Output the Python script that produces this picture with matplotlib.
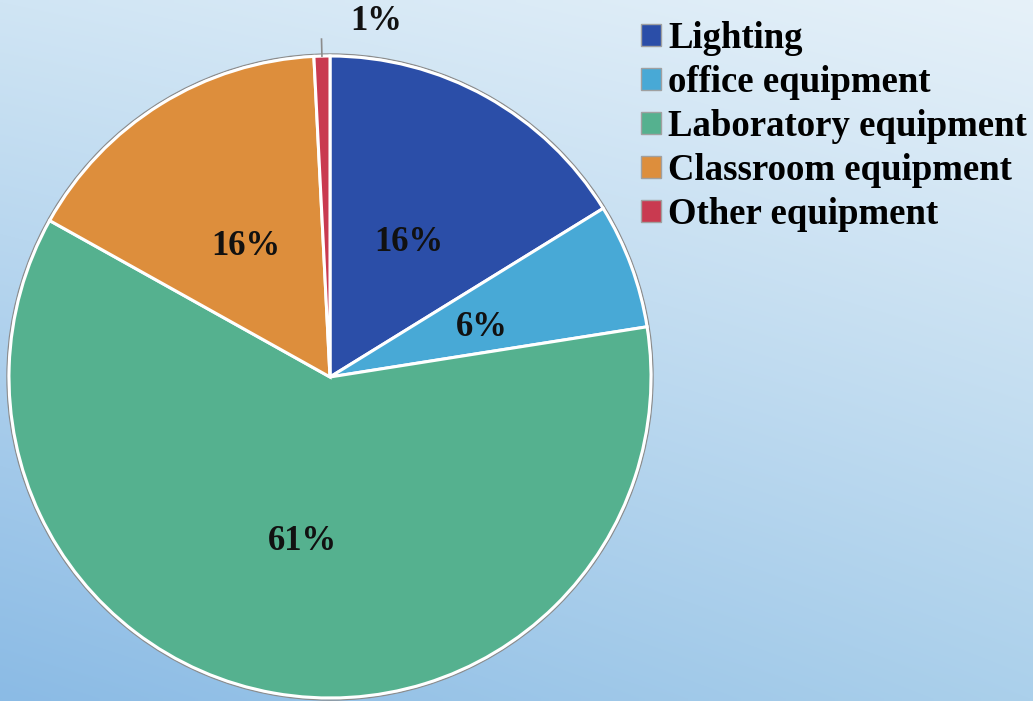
import numpy as np
import matplotlib.pyplot as plt
from matplotlib.patches import Patch, Circle
from matplotlib.colors import to_rgb

labels = ['Lighting', 'office equipment', 'Laboratory equipment', 'Classroom equipment', 'Other equipment']
values = [16.2, 6.3, 60.6, 16.1, 0.8]
colors = ['#2b4ea8', '#48a9d6', '#55b18f', '#dd8e3c', '#c93a50']

plt.rcParams['font.family'] = ['Liberation Serif', 'DejaVu Serif']
plt.rcParams['font.weight'] = 'bold'

W, H = 1033, 701
fig = plt.figure(figsize=(W / 100, H / 100), dpi=100)
ax = fig.add_axes([0, 0, 1, 1])

# background gradient (light top-right, darker blue bottom-left)
tl, tr = np.array(to_rgb('#d0e5f4')), np.array(to_rgb('#e6f1f9'))
bl, br = np.array(to_rgb('#8bbbe5')), np.array(to_rgb('#abd0eb'))
u = np.linspace(0, 1, 200)[None, :, None]
v = np.linspace(0, 1, 140)[:, None, None]
grad = (1 - v) * ((1 - u) * tl + u * tr) + v * ((1 - u) * bl + u * br)
ax.imshow(grad, extent=(0, W, 0, H), aspect='auto', zorder=0, interpolation='bilinear')

cx, cy, R = 330, H - 377, 321
ax.add_patch(Circle((cx, cy), R + 2, facecolor='none', edgecolor='#8c8c8c', lw=1, zorder=1))
wedges, texts, autotexts = ax.pie(values, colors=colors, startangle=90, counterclock=False,
                                  center=(cx, cy), radius=R, autopct=lambda p: '%d%%' % round(p),
                                  pctdistance=0.5, frame=True,
                                  wedgeprops=dict(edgecolor='white', linewidth=2.2),
                                  textprops=dict(fontsize=25, fontweight='bold', color='#111111'))
for w in wedges:
    w.set_zorder(2)
for t in autotexts:
    t.set_zorder(3)
    x, y = t.get_position()
    t.set_position((x + 1, y - 6))

# small slice label outside with leader line
w = wedges[-1]
ang = np.deg2rad((w.theta1 + w.theta2) / 2)
ax.plot([cx + R * np.cos(ang), cx + (R + 17) * np.cos(ang)],
        [cy + R * np.sin(ang), cy + (R + 17) * np.sin(ang)], color='#8c8c8c', lw=1.2, zorder=3)
autotexts[-1].set_position((376, H - 21))

ax.set_xlim(0, W)
ax.set_ylim(0, H)
ax.axis('off')

handles = [Patch(facecolor=c, edgecolor='#a0a0a0', linewidth=1) for c in colors]
leg = fig.legend(handles, labels, loc='upper left', bbox_to_anchor=(626 / W, 1 - 6 / H),
                 frameon=False, prop=dict(family='Liberation Serif', weight='bold', size=26.5),
                 handlelength=0.55, handleheight=0.55, handletextpad=0.2, labelspacing=0.245,
                 borderaxespad=0)

fig.savefig('out.png', dpi=100)
